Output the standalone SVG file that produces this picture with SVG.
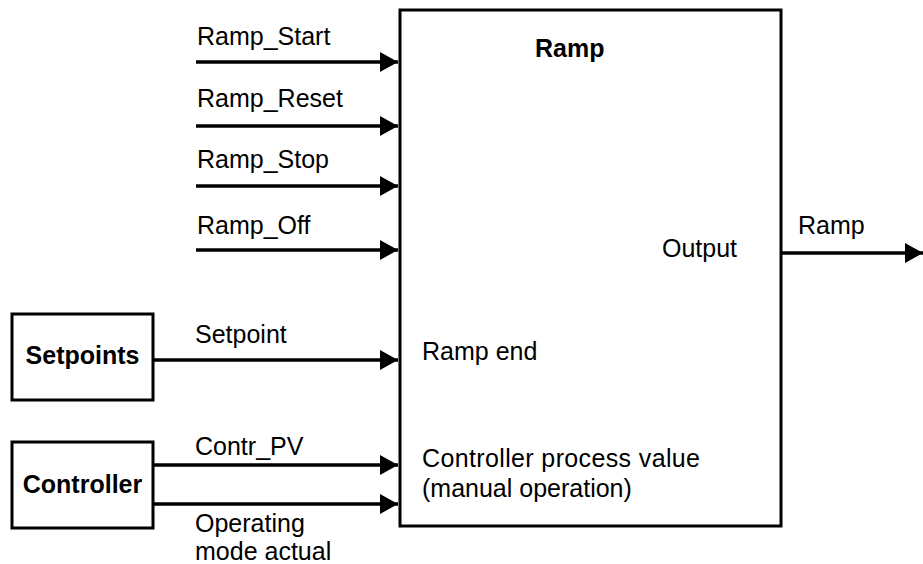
<svg xmlns="http://www.w3.org/2000/svg" width="923" height="564" viewBox="0 0 923 564">
<style>
text{font-family:"Liberation Sans",Arial,sans-serif;font-size:25px;fill:#000}
.b{font-weight:bold}
.box{fill:#fff;stroke:#000;stroke-width:3}
.ln{stroke:#000;stroke-width:3.5;fill:none;marker-end:url(#ah)}
</style>
<defs>
<marker id="ah" markerUnits="userSpaceOnUse" markerWidth="20" markerHeight="22" refX="18" refY="10" orient="auto">
<path d="M0,0 L18,10 L0,20 Z" fill="#000"/>
</marker>
</defs>
<g id="ramp">
<rect class="box" x="400" y="10" width="381" height="516"/>
<text class="b" x="535" y="57">Ramp</text>
<text x="662" y="257">Output</text>
<text x="422" y="360">Ramp end</text>
<text x="422" y="467" textLength="278">Controller process value</text>
<text x="422" y="497">(manual operation)</text>
</g>
<g id="setpoints">
<rect class="box" x="12" y="314" width="141" height="86"/>
<text class="b" x="82.5" y="364" text-anchor="middle">Setpoints</text>
</g>
<g id="controller">
<rect class="box" x="12" y="442" width="141" height="86"/>
<text class="b" x="82.5" y="493" text-anchor="middle">Controller</text>
</g>
<g id="connectors">
<line class="ln" x1="196" y1="62" x2="398" y2="62"/>
<line class="ln" x1="196" y1="126" x2="398" y2="126"/>
<line class="ln" x1="196" y1="186" x2="398" y2="186"/>
<line class="ln" x1="196" y1="250" x2="398" y2="250"/>
<line class="ln" x1="153" y1="360" x2="398" y2="360"/>
<line class="ln" x1="153" y1="465" x2="398" y2="465"/>
<line class="ln" x1="153" y1="504" x2="398" y2="504"/>
<line class="ln" x1="781" y1="253" x2="923" y2="253"/>
<text x="197" y="45">Ramp_Start</text>
<text x="197" y="107">Ramp_Reset</text>
<text x="197" y="168">Ramp_Stop</text>
<text x="197" y="234">Ramp_Off</text>
<text x="195" y="343">Setpoint</text>
<text x="195" y="455">Contr_PV</text>
<text x="195" y="532">Operating</text>
<text x="195" y="560">mode actual</text>
<text x="798" y="234">Ramp</text>
</g>
</svg>
